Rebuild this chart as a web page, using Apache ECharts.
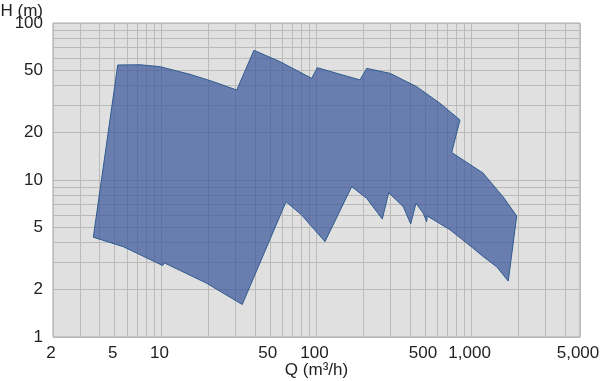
<!DOCTYPE html>
<html>
<head>
<meta charset="utf-8">
<script src="https://cdn.jsdelivr.net/npm/echarts@6/dist/echarts.min.js"></script>
<style>
  html, body { margin: 0; padding: 0; background: #fff; }
  #chart { width: 600px; height: 381px; }
</style>
</head>
<body>
<div id="chart"></div>
<script>
// outline of the coverage area, clockwise from the top-left corner
const qOutline = [5.23, 7.28, 9.79, 15.3, 21.6, 30.6, 39.5, 58.2, 93.1, 101.2, 190.7, 210.7, 297.8, 442.6, 625.6, 841.8,
  744, 1184, 1594, 1953, 1724, 1451, 1190, 1025, 725.6, 518, 513, 488, 438, 405, 362.8, 292, 265.6, 210.7,
  168.6, 113.4, 80.3, 63.6, 33.2, 19.6, 10.4, 10.2, 5.68, 3.64];
const hOutline = [54.0, 54.2, 52.7, 47.1, 42.3, 37.4, 67.0, 56.7, 44.4, 51.9, 43.4, 51.4, 47.8, 39.3, 30.8, 24.1,
  14.97, 11.08, 7.83, 5.90, 2.27, 2.80, 3.25, 3.67, 4.82, 5.90, 5.43, 6.14, 7.11, 5.25, 6.76, 8.30, 5.64, 7.64,
  9.07, 4.05, 5.98, 7.27, 1.61, 2.20, 2.97, 2.85, 3.76, 4.32];

const qLabels = [2, 5, 10, 50, 100, 500, 1000, 5000];
const hLabels = [1, 2, 5, 10, 20, 50, 100];
const qGrid = [2, 3, 4, 5, 6, 7, 8, 9, 10, 20, 30, 40, 50, 60, 70, 80, 90, 100, 200, 300, 400, 500, 600, 700, 800, 900,
  1000, 2000, 3000, 4000, 5000];
const hGrid = [1, 2, 3, 4, 5, 6, 7, 8, 9, 10, 20, 30, 40, 50, 60, 70, 80, 90, 100];

const chart = echarts.init(document.getElementById('chart'));
const font = 'Liberation Sans, Arial, sans-serif';
const fmt = v => Math.round(v).toLocaleString('en-US');

const option = {
  animation: false,
  textStyle: { fontFamily: font },
  grid: {
    left: 53, right: 20, top: 23, bottom: 44,
    outerBoundsMode: 'none',
    containLabel: false,
    show: true,
    backgroundColor: '#e0e0e0',
    borderColor: '#a6a6a6',
    borderWidth: 1
  },
  xAxis: {
    type: 'log',
    logBase: 10,
    min: 2,
    max: 5000,
    name: 'Q (m³/h)',
    nameLocation: 'middle',
    nameGap: 25,
    nameMoveOverlap: false,
    nameTextStyle: { fontSize: 17, color: '#222', fontFamily: font, verticalAlign: 'top' },
    axisLine: { show: false },
    axisTick: { show: false, customValues: qGrid },
    axisLabel: {
      customValues: qLabels,
      formatter: fmt,
      fontSize: 17,
      color: '#222',
      fontFamily: font,
      margin: 8,
      padding: [0, 4, 0, 0],
      showMinLabel: true,
      showMaxLabel: true
    },
    splitLine: { show: true, lineStyle: { color: '#bababa', width: 1 } }
  },
  yAxis: {
    type: 'log',
    logBase: 10,
    min: 1,
    max: 100,
    name: 'H (m)',
    nameLocation: 'end',
    nameGap: 3,
    nameMoveOverlap: false,
    nameTextStyle: {
      fontSize: 17, color: '#222', fontFamily: font,
      align: 'right', verticalAlign: 'bottom', padding: [0, 10, 0, 0]
    },
    axisLine: { show: false },
    axisTick: { show: false, customValues: hGrid },
    axisLabel: {
      customValues: hLabels,
      formatter: fmt,
      fontSize: 17,
      color: '#222',
      fontFamily: font,
      margin: 10,
      showMinLabel: true,
      showMaxLabel: true
    },
    splitLine: { show: true, lineStyle: { color: '#bababa', width: 1 } }
  },
  series: [
    {
      type: 'custom',
      data: qOutline.map((q, i) => [q, hOutline[i]]),
      renderItem: function (params, api) {
        if (params.dataIndex !== 0) return null;
        const pts = qOutline.map((q, i) => api.coord([q, hOutline[i]]));
        return {
          type: 'polygon',
          shape: { points: pts },
          style: { fill: 'rgba(58,87,155,0.72)', stroke: '#2f5b8f', lineWidth: 1 }
        };
      }
    }
  ]
};
chart.setOption(option);
</script>
</body>
</html>
